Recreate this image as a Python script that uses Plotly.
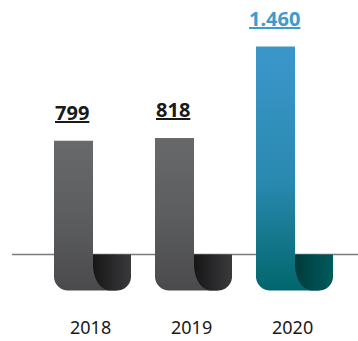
import numpy as np
import plotly.graph_objects as go

# ---- data ----
years = ["2018", "2019", "2020"]
values = [799, 818, 1460]
value_labels = ["799", "818", "1.460"]

# ---- styles ----
front_top = ["#68696b", "#68696b", "#3b97cb"]
front_mid = ["#5b5c5e", "#5b5c5e", "#2a89b0"]
front_bottom = ["#4a4a4c", "#4a4a4c", "#02666d"]
back_left = ["#161617", "#161617", "#003a3a"]
back_right = ["#3a3a3c", "#3a3a3c", "#005c5e"]
label_colors = ["#1a1a1a", "#1a1a1a", "#3d9bd1"]

W, H = 358, 341
BASE_PX = 254.5      # baseline position from top (px)
K = 0.1425           # px per unit on y
STEP = 101           # px between categories
X0_PX = 73.5         # px of first category centre

def px_x(d):
    return d / STEP

def px_y(d):
    return d / K

y_top = BASE_PX / K
y_bot = -(H - BASE_PX) / K
x_lo = -X0_PX / STEP
x_hi = (W - X0_PX) / STEP

HALF = 19.5
DEPTH = 36
BACK_W = 38
R1 = 14
R2 = 14
RX3, RY3 = 17, 26

def arc(cx, cy, rx, ry, a0, a1, n=24):
    t = np.radians(np.linspace(a0, a1, n))
    return list(cx + px_x(rx * np.cos(t))), list(cy + px_y(ry * np.sin(t)))

fig = go.Figure()

for i, v in enumerate(values):
    xl = i - px_x(HALF)
    xr = i + px_x(HALF)
    xe = xr + px_x(BACK_W)
    yb = -px_y(DEPTH)

    # front (vertical ribbon part)
    xs = [xl]
    ys = [v]
    ax, ay = arc(xl + px_x(R1), yb + px_y(R1), R1, R1, 180, 270)
    xs += ax
    ys += ay
    xs += [xr + px_x(24), xr + px_x(24), xr, xr, xl]
    ys += [yb, 0, 0, v, v]
    fig.add_trace(go.Scatter(
        x=xs, y=ys, mode="none", fill="toself", hoverinfo="skip",
        fillgradient=dict(type="vertical", start=yb, stop=v,
                          colorscale=[[0, front_bottom[i]], [0.45, front_mid[i]],
                                      [1, front_top[i]]]),
        showlegend=False))

    # back (folded part)
    xs = [xr, xe]
    ys = [0, 0]
    ax, ay = arc(xe - px_x(R2), yb + px_y(R2), R2, R2, 0, -90)
    xs += ax
    ys += ay
    ax, ay = arc(xr + px_x(RX3), yb + px_y(RY3), RX3, RY3, 270, 180)
    xs += ax + [xr]
    ys += ay + [0]
    fig.add_trace(go.Scatter(
        x=xs, y=ys, mode="none", fill="toself", hoverinfo="skip",
        fillgradient=dict(type="horizontal", start=xr, stop=xe,
                          colorscale=[[0, back_left[i]], [1, back_right[i]]]),
        showlegend=False))

    fig.add_annotation(x=i, y=v, text="<b><u>%s</u></b>" % value_labels[i],
                       showarrow=False, yanchor="middle", yshift=28, xshift=-1.5,
                       font=dict(family="Noto Sans", size=20, color=label_colors[i]))
    fig.add_annotation(x=i + px_x(16.5), y=-px_y(327 - BASE_PX), text=years[i],
                       showarrow=False, yanchor="middle",
                       font=dict(family="Noto Sans", size=18, color="#1a1a1a"))

fig.add_shape(type="line", xref="paper", yref="y", x0=12 / W, x1=1, y0=0, y1=0,
              line=dict(color="#7a7a7a", width=1.5), layer="below")

fig.update_layout(
    width=W, height=H, margin=dict(l=0, r=0, t=0, b=0),
    paper_bgcolor="white", plot_bgcolor="white",
    xaxis=dict(range=[x_lo, x_hi], visible=False, fixedrange=True),
    yaxis=dict(range=[y_bot, y_top], visible=False, fixedrange=True),
    showlegend=False,
)

fig.write_html("out.html", config={"displayModeBar": False})
